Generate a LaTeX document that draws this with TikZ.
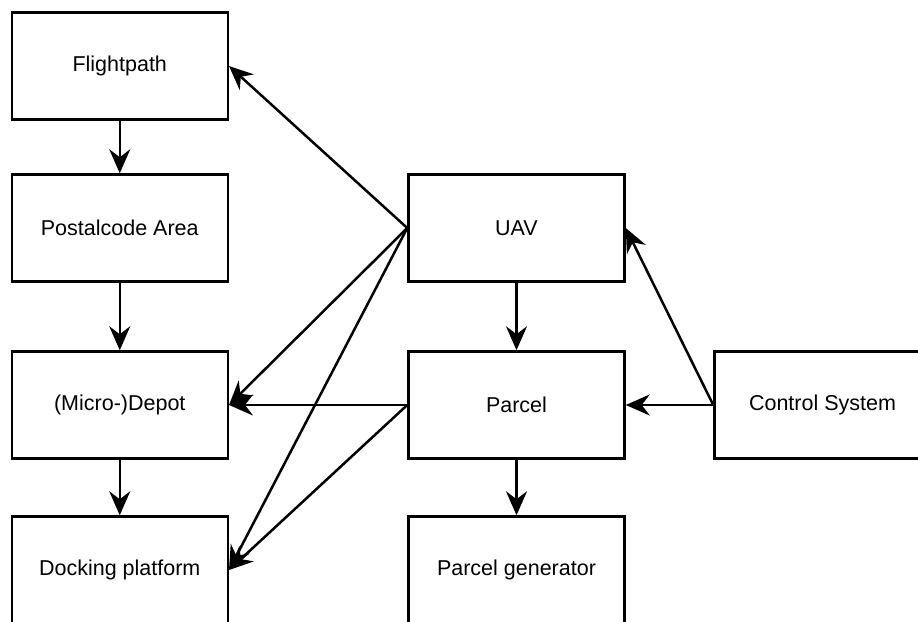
\documentclass[tikz,border=0pt]{standalone}
\usepackage{fontspec}
\setmainfont{Liberation Sans}
\usetikzlibrary{arrows.meta}
\begin{document}
\begin{tikzpicture}[x=1pt,y=-1pt]
  \tikzset{
    block/.style={draw=black, line width=2.5pt, fill=white, minimum width=216pt,
      minimum height=107pt, inner sep=0pt, font=\fontsize{21.5}{26}\selectfont},
    tip/.tip={Stealth[length=24pt, width=21pt, inset=8pt]},
    link/.style={line width=2.5pt, arrows={-tip}}
  }
  \clip (0,0) rectangle (918,621);
  \fill[white] (0,0) rectangle (918,621);

  % left column
  \node[block] (flight) at (119.75,66)  {Flightpath};
  \node[block] (postal) at (119.75,228) {Postalcode Area};
  \node[block] (depot)  at (119.75,405) {(Micro-)Depot};
  \node[block] (dock)   at (119.75,570) {Docking platform};

  % middle column
  \node[block] (uav)    at (516.5,228) {UAV};
  \node[block] (parcel) at (516.5,405) {Parcel};
  \node[block] (gen)    at (516.5,570) {Parcel generator};

  % right column
  \node[block] (ctrl)   at (822.5,405) {Control System};

  % vertical chains
  \draw[link] (flight) -- (postal);
  \draw[link] (postal) -- (depot);
  \draw[link] (depot)  -- (dock);
  \draw[link] (uav)    -- (parcel);
  \draw[link] (parcel) -- (gen);

  % fan-out from the UAV
  \draw[link] (uav.west) -- (flight.east);
  \draw[link] (uav.west) -- (depot.east);
  \draw[link] (uav.west) -- (dock.east);

  % fan-out from the parcel
  \draw[link] (parcel.west) -- (depot.east);
  \draw[link] (parcel.west) -- (dock.east);

  % control system
  \draw[link] (ctrl.west) -- (parcel.east);
  \draw[link] (ctrl.west) -- (uav.east);
\end{tikzpicture}
\end{document}
